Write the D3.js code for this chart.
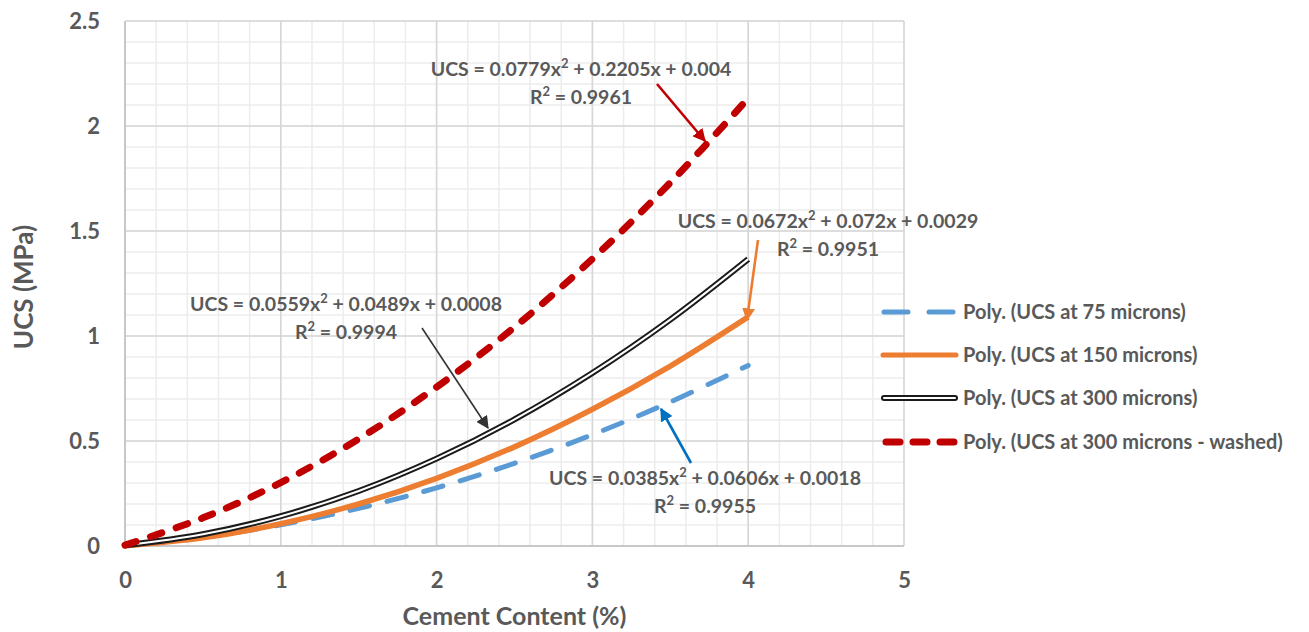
<!DOCTYPE html>
<html>
<head>
<meta charset="utf-8">
<script src="https://cdn.jsdelivr.net/npm/d3@7"></script>
<style>
  body { margin: 0; background: #fff; }
  svg text { font-family: Lato, "Open Sans", sans-serif; font-weight: bold; fill: #595959; }
</style>
</head>
<body>
<svg id="chart" width="1309" height="632"></svg>
<script>
// values, cement content in %
const cement = [0, 0.5, 1, 1.5, 2, 2.5, 3, 3.5, 4]
const ucs75 = [0.002, 0.042, 0.101, 0.179, 0.277, 0.394, 0.530, 0.686, 0.860]
const ucs150 = [0.001, 0.039, 0.106, 0.200, 0.322, 0.472, 0.651, 0.857, 1.091]
const ucs300 = [0.003, 0.056, 0.142, 0.262, 0.416, 0.603, 0.824, 1.078, 1.366]
const ucs300w = [0.004, 0.134, 0.302, 0.510, 0.757, 1.042, 1.367, 1.730, 2.132]

const xTicks = [0, 1, 2, 3, 4, 5]
const yTicks = [0, 0.5, 1, 1.5, 2, 2.5]

const seriesNames = [
  'Poly. (UCS at 75 microns)',
  'Poly. (UCS at 150 microns)',
  'Poly. (UCS at 300 microns)',
  'Poly. (UCS at 300 microns - washed)'
]

const svg = d3.select('#chart')
const x = d3.scaleLinear().domain([0, 5]).range([125, 904])
const y = d3.scaleLinear().domain([0, 2.5]).range([546, 21])

function buildGrid() {
  const g = svg.append('g')
  g.selectAll('.vminor').data(d3.range(0, 5.01, 0.2)).enter().append('line')
    .attr('x1', (d) => x(d)).attr('x2', (d) => x(d))
    .attr('y1', y(0)).attr('y2', y(2.5))
    .attr('stroke', '#ececec').attr('stroke-width', 1.5)
  g.selectAll('.hminor').data(d3.range(0, 2.501, 0.1)).enter().append('line')
    .attr('y1', (d) => y(d)).attr('y2', (d) => y(d))
    .attr('x1', x(0)).attr('x2', x(5))
    .attr('stroke', '#ececec').attr('stroke-width', 1.5)
  g.selectAll('.vmajor').data(xTicks).enter().append('line')
    .attr('x1', (d) => x(d)).attr('x2', (d) => x(d))
    .attr('y1', y(0)).attr('y2', y(2.5))
    .attr('stroke', '#d6d6d6').attr('stroke-width', 1.5)
  g.selectAll('.hmajor').data(yTicks).enter().append('line')
    .attr('y1', (d) => y(d)).attr('y2', (d) => y(d))
    .attr('x1', x(0)).attr('x2', x(5))
    .attr('stroke', '#d6d6d6').attr('stroke-width', 1.5)
  g.append('line').attr('x1', x(0)).attr('x2', x(0)).attr('y1', y(0)).attr('y2', y(2.5))
    .attr('stroke', '#c8c8c8').attr('stroke-width', 2)
  g.append('line').attr('x1', x(0)).attr('x2', x(5)).attr('y1', y(0)).attr('y2', y(0))
    .attr('stroke', '#c8c8c8').attr('stroke-width', 2)
}

function buildAxes() {
  const xAxis = d3.axisBottom(x).tickValues(xTicks).tickSize(0).tickPadding(0).tickFormat(d3.format('d'))
  const gx = svg.append('g').attr('transform', 'translate(0,' + 588 + ')').call(xAxis)
  gx.select('.domain').remove()
  gx.selectAll('text').attr('font-size', 22).attr('dy', 0).attr('fill', '#595959')
    .style('font-family', 'Lato, sans-serif')

  const yAxis = d3.axisLeft(y).tickValues(yTicks).tickSize(0).tickPadding(0).tickFormat((d) => String(d))
  const gy = svg.append('g').attr('transform', 'translate(100,0)').call(yAxis)
  gy.select('.domain').remove()
  gy.selectAll('text').attr('font-size', 22).attr('dy', '0.35em').attr('fill', '#595959')
    .style('font-family', 'Lato, sans-serif')

  svg.append('text').attr('x', x(2.5)).attr('y', 625).attr('text-anchor', 'middle')
    .attr('font-size', 25).text('Cement Content (%)')
  svg.append('text').attr('transform', 'translate(33,287) rotate(-90)').attr('text-anchor', 'middle')
    .attr('font-size', 26).text('UCS (MPa)')
}

function buildLines() {
  const pts = (vals) => cement.map((c, i) => [c, vals[i]])
  const line = d3.line().x((d) => x(d[0])).y((d) => y(d[1])).curve(d3.curveCatmullRom)
  const g = svg.append('g').attr('fill', 'none')

  g.append('path').attr('d', line(pts(ucs75)))
    .attr('stroke', '#5b9bd5').attr('stroke-width', 5).attr('stroke-dasharray', '20,18')
    .attr('stroke-linecap', 'round')
  g.append('path').attr('d', line(pts(ucs150)))
    .attr('stroke', '#ed7d31').attr('stroke-width', 5.5)
  g.append('path').attr('d', line(pts(ucs300)))
    .attr('stroke', '#1a1a1a').attr('stroke-width', 6)
  g.append('path').attr('d', line(pts(ucs300)))
    .attr('stroke', '#ffffff').attr('stroke-width', 2)
  g.append('path').attr('d', line(pts(ucs300w)))
    .attr('stroke', '#c00000').attr('stroke-width', 7).attr('stroke-dasharray', '12,15')
    .attr('stroke-linecap', 'round')
}

function buildAnnotations() {
  const defs = svg.append('defs')
  const colors = { red: '#c00000', orange: '#ed7d31', black: '#333333', blue: '#0070c0' }
  Object.keys(colors).forEach((k) => {
    defs.append('marker').attr('id', 'arr-' + k)
      .attr('viewBox', '0 -5 10 10').attr('refX', 9).attr('refY', 0)
      .attr('markerWidth', k === 'black' ? 8 : 5).attr('markerHeight', k === 'black' ? 8 : 5).attr('orient', 'auto')
      .attr('markerUnits', 'strokeWidth')
      .append('path').attr('d', 'M0,-5L10,0L0,5Z').attr('fill', colors[k])
  })

  const notes = [
    { eq: ['0.0779', '0.2205x + 0.004'], r2: '0.9961', cx: 581, y: 76, arrow: [657, 84, 705, 141], c: 'red' },
    { eq: ['0.0672', '0.072x + 0.0029'], r2: '0.9951', cx: 828, y: 228, arrow: [758, 240, 747, 320], c: 'orange' },
    { eq: ['0.0559', '0.0489x + 0.0008'], r2: '0.9994', cx: 346, y: 311, arrow: [422, 328, 488, 428], c: 'black' },
    { eq: ['0.0385', '0.0606x + 0.0018'], r2: '0.9955', cx: 705, y: 485, arrow: [691, 463, 661, 409], c: 'blue' }
  ]

  notes.forEach((n) => {
    const t1 = svg.append('text').attr('x', n.cx).attr('y', n.y).attr('text-anchor', 'middle').attr('font-size', 19.5)
    t1.append('tspan').text('UCS = ' + n.eq[0] + 'x')
    t1.append('tspan').attr('dy', -8).attr('font-size', 13).text('2')
    t1.append('tspan').attr('dy', 8).text(' + ' + n.eq[1])
    const t2 = svg.append('text').attr('x', n.cx).attr('y', n.y + 28).attr('text-anchor', 'middle').attr('font-size', 19.5)
    t2.append('tspan').text('R')
    t2.append('tspan').attr('dy', -8).attr('font-size', 13).text('2')
    t2.append('tspan').attr('dy', 8).text(' = ' + n.r2)
    svg.append('line')
      .attr('x1', n.arrow[0]).attr('y1', n.arrow[1]).attr('x2', n.arrow[2]).attr('y2', n.arrow[3])
      .attr('stroke', colors[n.c]).attr('stroke-width', n.c === 'black' ? 1.6 : 2.6)
      .attr('marker-end', 'url(#arr-' + n.c + ')')
  })
}

function buildLegend() {
  const rows = [312, 355, 398, 442]
  const g = svg.append('g')
  rows.forEach((ry, i) => {
    if (i === 0) {
      g.append('line').attr('x1', 884).attr('x2', 955).attr('y1', ry).attr('y2', ry)
        .attr('stroke', '#5b9bd5').attr('stroke-width', 5).attr('stroke-dasharray', '24,21')
        .attr('stroke-linecap', 'round')
    } else if (i === 1) {
      g.append('line').attr('x1', 883).attr('x2', 956).attr('y1', ry).attr('y2', ry)
        .attr('stroke', '#ed7d31').attr('stroke-width', 5).attr('stroke-linecap', 'round')
    } else if (i === 2) {
      g.append('line').attr('x1', 884).attr('x2', 955).attr('y1', ry).attr('y2', ry)
        .attr('stroke', '#1a1a1a').attr('stroke-width', 6).attr('stroke-linecap', 'round')
      g.append('line').attr('x1', 884).attr('x2', 955).attr('y1', ry).attr('y2', ry)
        .attr('stroke', '#fff').attr('stroke-width', 2).attr('stroke-linecap', 'round')
    } else {
      g.append('line').attr('x1', 886).attr('x2', 955).attr('y1', ry).attr('y2', ry)
        .attr('stroke', '#c00000').attr('stroke-width', 7).attr('stroke-dasharray', '14,13')
        .attr('stroke-linecap', 'round')
    }
    g.append('text').attr('x', 963).attr('y', ry).attr('dy', '0.35em').attr('font-size', 20)
      .text(seriesNames[i])
  })
}

buildGrid()
buildLines()
buildAxes()
buildAnnotations()
buildLegend()
</script>
</body>
</html>
